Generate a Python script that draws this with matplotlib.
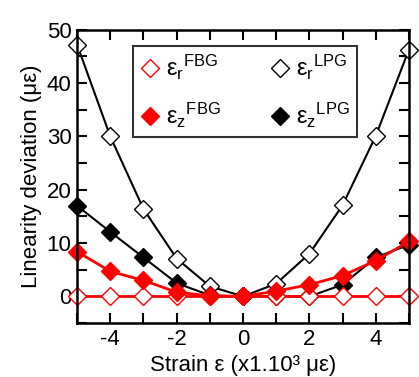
import matplotlib
matplotlib.use("Agg")
from matplotlib import pyplot as plt
from matplotlib.lines import Line2D
from matplotlib.ticker import MultipleLocator

plt.rcParams['font.family'] = ['Liberation Sans', 'DejaVu Sans']
plt.rcParams['mathtext.fontset'] = 'custom'
plt.rcParams['mathtext.rm'] = 'Liberation Sans'
plt.rcParams['mathtext.it'] = 'Liberation Sans'
plt.rcParams['axes.unicode_minus'] = False

strain = [-5, -4, -3, -2, -1, 0, 1, 2, 3, 4, 5]
er_fbg = [0, 0, 0, 0, 0, 0, 0, 0, 0, 0, 0]
ez_fbg = [8.4, 4.7, 3.0, 0.8, 0.1, 0, 1.0, 2.2, 3.9, 6.7, 10.3]
er_lpg = [47.2, 30.0, 16.4, 7.1, 1.9, 0, 2.4, 8.0, 17.1, 30.1, 46.3]
ez_lpg = [17.0, 12.1, 7.3, 2.5, 0.2, 0, 0, 0, 2.2, 7.3, 9.7]

red = '#ff0000'
ms = 9

fig = plt.figure(figsize=(4.19, 3.77), dpi=100)
ax = fig.add_axes([0.184, 0.143, 0.792, 0.778])

ax.plot(strain, er_lpg, color='black', lw=1.5, marker='D', ms=ms, mfc='white', mec='black', mew=1.0, clip_on=False)
ax.plot(strain, ez_lpg, color='black', lw=1.5, marker='D', ms=ms, mfc='black', mec='black', clip_on=False)
ax.plot(strain, er_fbg, color=red, lw=2, marker='D', ms=ms, mfc='white', mec=red, mew=1.0, clip_on=False)
ax.plot(strain, ez_fbg, color=red, lw=2, marker='D', ms=ms, mfc=red, mec=red, clip_on=False)

ax.set_xlim(-5, 5)
ax.set_ylim(-5, 50)
ax.xaxis.set_minor_locator(MultipleLocator(1))
ax.yaxis.set_major_locator(MultipleLocator(10))
ax.yaxis.set_minor_locator(MultipleLocator(5))
ax.set_xticks([-4, -2, 0, 2, 4])
ax.tick_params(which='both', direction='in', top=True, right=True, width=1.5, labelsize=16)
ax.tick_params(which='major', length=7, pad=4)
ax.tick_params(which='minor', length=7)
for s in ax.spines.values():
    s.set_linewidth(1.8)

ax.set_xlabel('Strain ε (x1.10³ με)', fontsize=16, labelpad=4)
ax.set_ylabel('Linearity deviation (με)', fontsize=16, labelpad=3)

handles = [
    Line2D([], [], ls='none', marker='D', ms=ms, mfc='white', mec=red),
    Line2D([], [], ls='none', marker='D', ms=ms, mfc=red, mec=red),
    Line2D([], [], ls='none', marker='D', ms=ms, mfc='white', mec='black'),
    Line2D([], [], ls='none', marker='D', ms=ms, mfc='black', mec='black'),
]
labels = [r'ε$_{\rm r}$$^{\rm FBG}$', r'ε$_{\rm z}$$^{\rm FBG}$',
          r'ε$_{\rm r}$$^{\rm LPG}$', r'ε$_{\rm z}$$^{\rm LPG}$']
leg = ax.legend(handles, labels, ncol=2, loc='upper left', bbox_to_anchor=(0.169, 0.944),
                borderaxespad=0, fontsize=17, frameon=True, fancybox=False, edgecolor='black',
                handlelength=0.8, handletextpad=0.3, columnspacing=2.1,
                labelspacing=0.8, borderpad=0.3)
leg.get_frame().set_linewidth(1.5)

fig.savefig('out.png', dpi=100)
